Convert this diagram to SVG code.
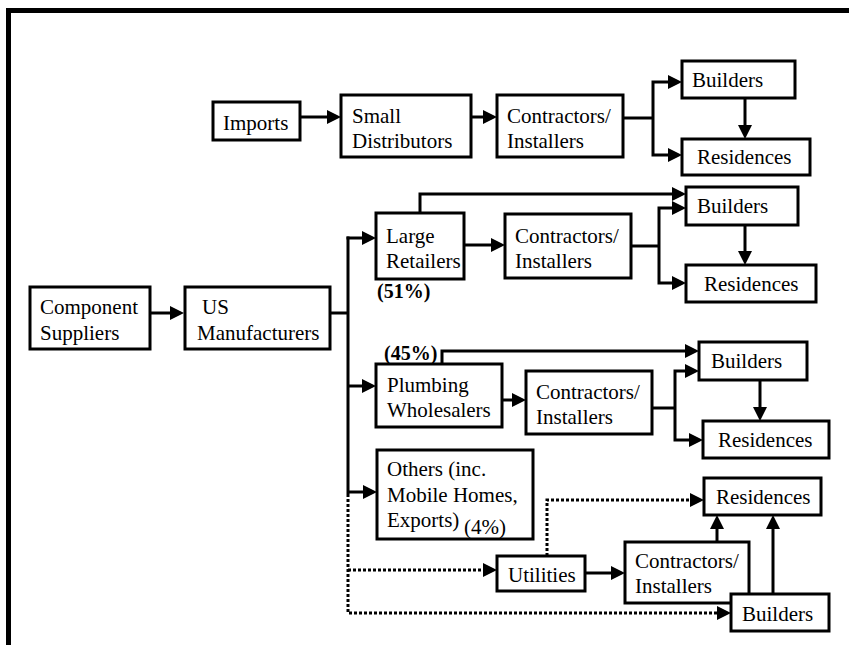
<svg xmlns="http://www.w3.org/2000/svg" width="849" height="645" viewBox="0 0 849 645" font-family="'Liberation Serif', 'Times New Roman', Times, 'DejaVu Serif', serif">
<style>
.box{fill:#fff;stroke:#000;stroke-width:3}
.t{font-family:'Liberation Serif','Times New Roman',Times,'DejaVu Serif',serif;font-size:21px;fill:#000}
.b{font-weight:bold;font-size:20px}
.c{fill:none;stroke:#000;stroke-width:3}
.d{fill:none;stroke:#000;stroke-width:3;stroke-dasharray:3 2}
.ar{marker-end:url(#a)}
</style>
<defs>
<marker id="a" markerUnits="userSpaceOnUse" markerWidth="14" markerHeight="14" refX="4" refY="7" orient="auto" viewBox="0 0 14 14">
<path d="M0,0 L14,7 L0,14 z" fill="#000"/>
</marker>
</defs>
<rect x="0" y="0" width="849" height="645" fill="#fff"/>
<g id="frame">
<rect x="6" y="8" width="843" height="5" fill="#000"/>
<rect x="6" y="8" width="5" height="637" fill="#000"/>
</g>
<g id="connectors">
<path class="c ar" d="M300,117 H331"/>
<path class="c ar" d="M471,117 H487"/>
<path class="c" d="M623,118 H653"/>
<path class="c ar" d="M653,118 V82 H672"/>
<path class="c ar" d="M653,118 V155 H672"/>
<path class="c ar" d="M745,98 V129"/>
<path class="c ar" d="M150,313 H174"/>
<path class="c" d="M330,313 H348"/>
<path class="c" d="M348,236.5 V494"/>
<path class="c ar" d="M346.5,238 H366"/>
<path class="c ar" d="M464,245 H495"/>
<path class="c ar" d="M420,213 V194 H676"/>
<path class="c" d="M631,246 H659"/>
<path class="c ar" d="M659,246 V208 H676"/>
<path class="c ar" d="M659,246 V283 H676"/>
<path class="c ar" d="M745,225 V255"/>
<path class="c ar" d="M348,386 H366"/>
<path class="c ar" d="M502,400 H516"/>
<path class="c ar" d="M442,364 V351 H689"/>
<path class="c" d="M652,408 H675"/>
<path class="c ar" d="M675,408 V371 H689"/>
<path class="c ar" d="M675,408 V440 H693"/>
<path class="c ar" d="M760,380 V411"/>
<path class="c ar" d="M348,492 H367"/>
<path class="c ar" d="M585,573 H615"/>
<path class="c ar" d="M717,542 V525"/>
<path class="c ar" d="M773,594 V525"/>
<path class="d ar" d="M348,494 V613 H721"/>
<path class="d ar" d="M348,570 H487"/>
<path class="d ar" d="M547,556 V500 H694"/>
</g>
<g id="component-suppliers"><rect class="box" x="30" y="287" width="120" height="62"/><text class="t" x="40" y="314">Component</text><text class="t" x="40" y="340">Suppliers</text></g>
<g id="us-manufacturers"><rect class="box" x="185" y="287" width="145" height="62"/><text class="t" x="202" y="314">US</text><text class="t" x="197" y="340">Manufacturers</text></g>
<g id="imports"><rect class="box" x="213" y="102" width="87" height="38"/><text class="t" x="223" y="130">Imports</text></g>
<g id="small-distributors"><rect class="box" x="341" y="95" width="130" height="62"/><text class="t" x="352" y="123">Small</text><text class="t" x="352" y="148">Distributors</text></g>
<g id="contractors-1"><rect class="box" x="497" y="95" width="126" height="62"/><text class="t" x="507" y="123">Contractors/</text><text class="t" x="507" y="148">Installers</text></g>
<g id="builders-1"><rect class="box" x="682" y="61" width="113" height="37"/><text class="t" x="692" y="87">Builders</text></g>
<g id="residences-1"><rect class="box" x="682" y="139" width="128" height="36"/><text class="t" x="697" y="164">Residences</text></g>
<g id="large-retailers"><rect class="box" x="376" y="213" width="88" height="66"/><text class="t" x="386" y="243">Large</text><text class="t" x="386" y="268">Retailers</text><text class="t b" x="377" y="298">(51%)</text></g>
<g id="contractors-2"><rect class="box" x="505" y="214" width="126" height="64"/><text class="t" x="515" y="243">Contractors/</text><text class="t" x="515" y="268">Installers</text></g>
<g id="builders-2"><rect class="box" x="686" y="187" width="112" height="38"/><text class="t" x="697" y="213">Builders</text></g>
<g id="residences-2"><rect class="box" x="686" y="265" width="130" height="37"/><text class="t" x="704" y="291">Residences</text></g>
<g id="plumbing-wholesalers"><rect class="box" x="376" y="364" width="126" height="63"/><text class="t" x="387" y="392">Plumbing</text><text class="t" x="387" y="417">Wholesalers</text><text class="t b" x="384" y="360">(45%)</text></g>
<g id="contractors-3"><rect class="box" x="526" y="371" width="126" height="63"/><text class="t" x="536" y="399">Contractors/</text><text class="t" x="536" y="424">Installers</text></g>
<g id="builders-3"><rect class="box" x="699" y="342" width="108" height="38"/><text class="t" x="711" y="368">Builders</text></g>
<g id="residences-3"><rect class="box" x="703" y="421" width="126" height="37"/><text class="t" x="718" y="447">Residences</text></g>
<g id="others"><rect class="box" x="377" y="450" width="156" height="89"/><text class="t" x="387" y="476">Others (inc.</text><text class="t" x="387" y="502">Mobile Homes,</text><text class="t" x="387" y="527">Exports)</text><text class="t" x="464" y="534">(4%)</text></g>
<g id="utilities"><rect class="box" x="497" y="556" width="88" height="35"/><text class="t" x="508" y="582">Utilities</text></g>
<g id="residences-4"><rect class="box" x="704" y="478" width="117" height="37"/><text class="t" x="716" y="504">Residences</text></g>
<g id="contractors-4"><rect class="box" x="625" y="542" width="124" height="61"/><text class="t" x="635" y="568">Contractors/</text><text class="t" x="635" y="593">Installers</text></g>
<g id="builders-4"><rect class="box" x="731" y="594" width="98" height="37"/><text class="t" x="742" y="621">Builders</text></g>
</svg>
